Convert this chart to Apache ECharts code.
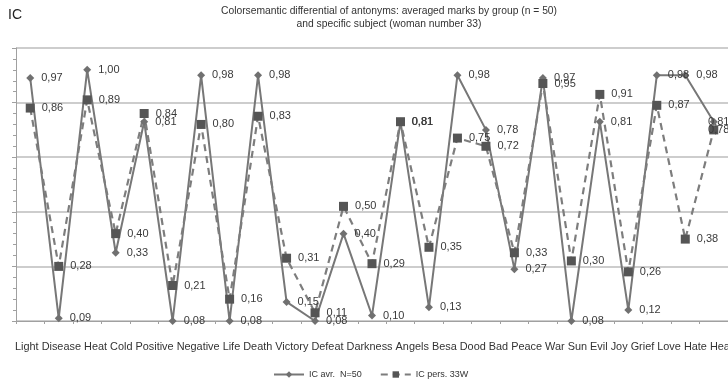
<!DOCTYPE html>
<html>
<head>
<meta charset="utf-8">
<script src="https://cdn.jsdelivr.net/npm/echarts@6/dist/echarts.min.js"></script>
<style>
  html, body { margin: 0; padding: 0; background: #fff; }
  #chart { width: 728px; height: 392px; }
</style>
</head>
<body>
<div id="chart"></div>
<script>
// antonym words, printed as one running line under the axis
const words = ['Light', 'Disease', 'Heat', 'Cold', 'Positive', 'Negative', 'Life', 'Death',
    'Victory', 'Defeat', 'Darkness', 'Angels', 'Besa', 'Dood', 'Bad', 'Peace', 'War',
    'Sun', 'Evil', 'Joy', 'Grief', 'Love', 'Hate', 'Health'];

// 25 plotted positions
const slots = ['1', '2', '3', '4', '5', '6', '7', '8', '9', '10', '11', '12', '13',
    '14', '15', '16', '17', '18', '19', '20', '21', '22', '23', '24', '25'];

const avgGroup = [0.97, 0.09, 1.00, 0.33, 0.81, 0.08, 0.98, 0.08, 0.98, 0.15, 0.08, 0.40, 0.10,
    0.81, 0.13, 0.98, 0.78, 0.27, 0.97, 0.08, 0.81, 0.12, 0.98, 0.98, 0.81];
const persSubject = [0.86, 0.28, 0.89, 0.40, 0.84, 0.21, 0.80, 0.16, 0.83, 0.31, 0.11, 0.50, 0.29,
    0.81, 0.35, 0.75, 0.72, 0.33, 0.95, 0.30, 0.91, 0.26, 0.87, 0.38, 0.78];

const yTicks = [0.08, 0.28, 0.48, 0.68, 0.88, 1.08];

const fmt = v => v.toFixed(2).replace('.', ',');

// last point: label pulled back so it stays inside the picture
function withLastLabel(arr) {
    return arr.map((v, i) => i === arr.length - 1
        ? { value: v, label: { position: 'inside', offset: [5, 0] } }
        : v);
}

const chart = echarts.init(document.getElementById('chart'));

const labelStyle = {
    show: true,
    position: 'right',
    distance: 7,
    fontSize: 11,
    color: '#3a3a3a',
    fontFamily: 'Liberation Sans',
    formatter: p => fmt(p.value)
};

chart.setOption({
    animation: false,
    textStyle: { fontFamily: 'Liberation Sans' },
    graphic: [
        { type: 'text', x: 8, y: 8, style: { text: 'IC', fontSize: 14, fill: '#222', fontFamily: 'Liberation Sans' } },
        {
            type: 'text', x: 389, y: 5,
            style: {
                text: 'Colorsemantic differential of antonyms: averaged marks by group (n = 50)\nand specific subject (woman number 33)',
                fontSize: 10.3, lineHeight: 13, fill: '#333', align: 'center', fontFamily: 'Liberation Sans'
            }
        },
        {
            type: 'text', x: 15, y: 341,
            style: { text: words.join(' '), fontSize: 10.9, fill: '#333', fontFamily: 'Liberation Sans' }
        }
    ],
    legend: {
        bottom: 8,
        left: 268,
        itemWidth: 30,
        itemHeight: 8,
        itemGap: 18,
        textStyle: { fontSize: 9, color: '#333' },
        data: ['IC avr.  N=50', 'IC pers. 33W']
    },
    grid: { left: 16, right: 0, top: 48, bottom: 71 },
    xAxis: {
        type: 'category',
        data: slots,
        boundaryGap: true,
        axisLine: { lineStyle: { color: '#a0a0a0' } },
        axisTick: { show: true, length: 3, lineStyle: { color: '#a0a0a0' } },
        axisLabel: { show: false }
    },
    yAxis: {
        type: 'value',
        min: yTicks[0],
        max: yTicks[yTicks.length - 1],
        interval: 0.2,
        axisLine: { show: true, lineStyle: { color: '#a0a0a0' } },
        axisTick: { show: true, length: 4, lineStyle: { color: '#a0a0a0' } },
        minorTick: { show: true, splitNumber: 5, length: 3, lineStyle: { color: '#a0a0a0' } },
        axisLabel: { show: false },
        splitLine: { lineStyle: { color: '#bdbdbd', width: 1.5 } }
    },
    series: [
        {
            name: 'IC avr.  N=50',
            type: 'line',
            data: withLastLabel(avgGroup),
            symbol: 'diamond',
            symbolSize: 8,
            itemStyle: { color: '#707070' },
            lineStyle: { color: '#777777', width: 2 },
            label: labelStyle
        },
        {
            name: 'IC pers. 33W',
            type: 'line',
            data: withLastLabel(persSubject),
            symbol: 'rect',
            symbolSize: 9,
            itemStyle: { color: '#555555' },
            lineStyle: { color: '#7d7d7d', width: 2.2, type: [7, 5] },
            label: labelStyle
        }
    ]
});
</script>
</body>
</html>
